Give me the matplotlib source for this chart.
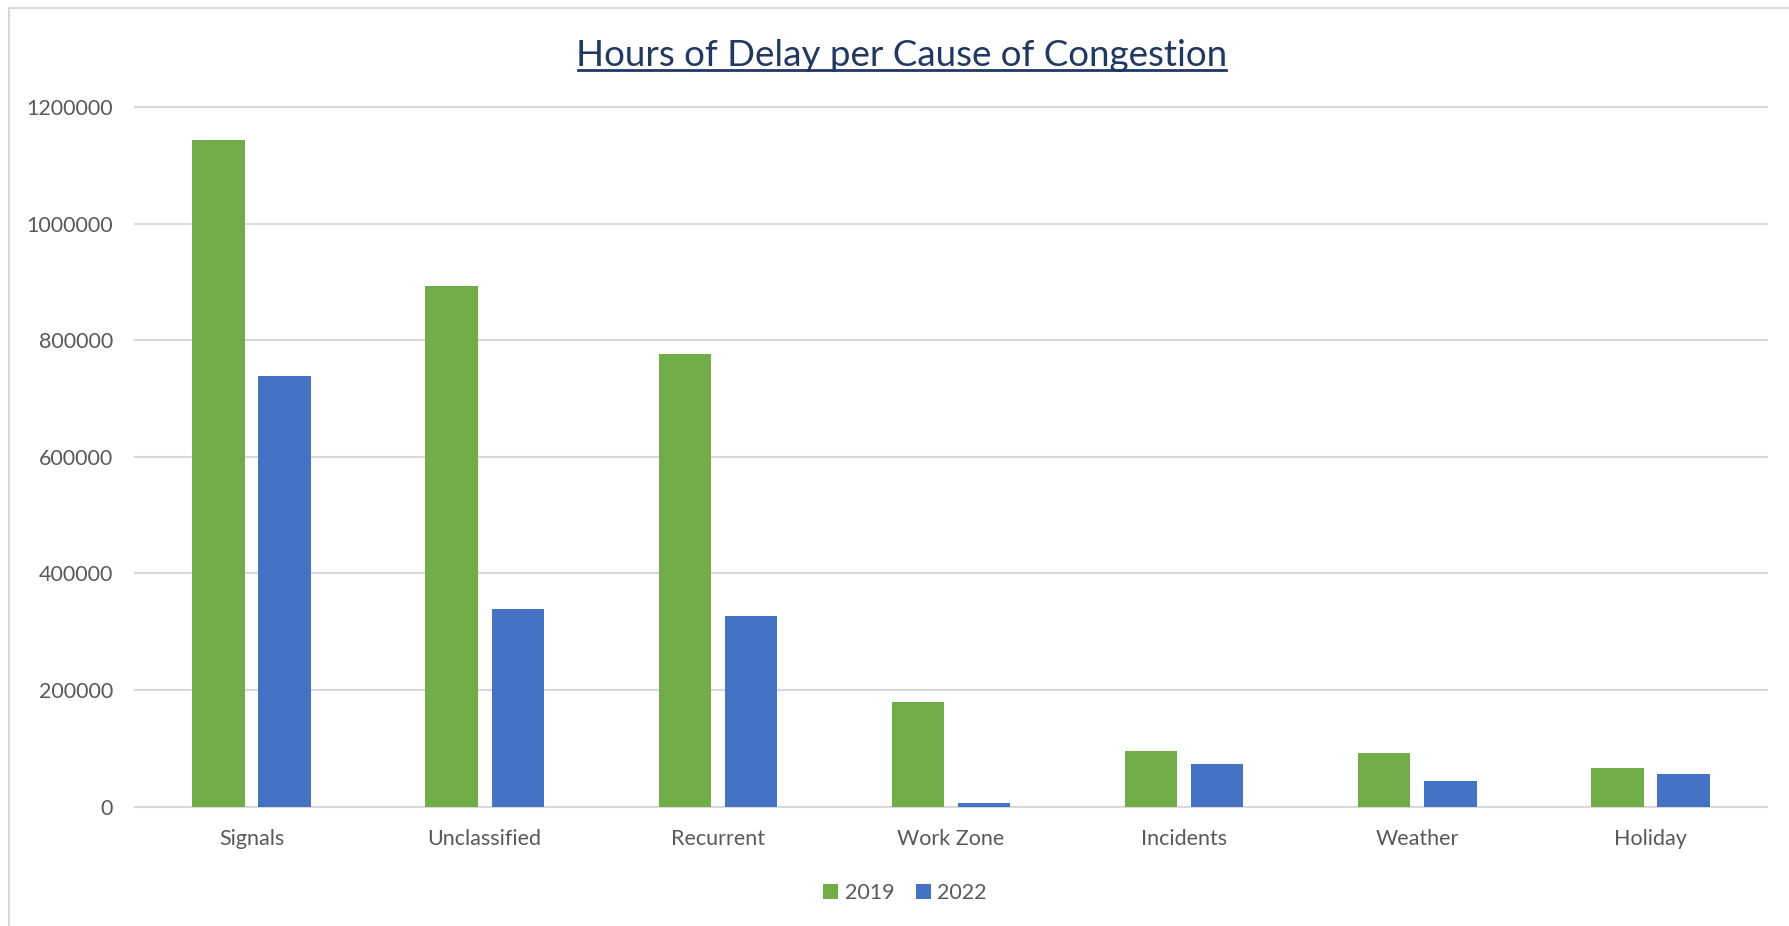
import matplotlib.pyplot as plt
import numpy as np

causes = ["Signals", "Unclassified", "Recurrent", "Work Zone", "Incidents", "Weather", "Holiday"]
delay_2019 = [1143000, 893000, 776000, 179000, 96000, 92000, 66000]
delay_2022 = [738000, 339000, 327000, 6000, 73000, 44000, 56000]
yticks = [0, 200000, 400000, 600000, 800000, 1000000, 1200000]

plt.rcParams['font.family'] = ['Lato', 'DejaVu Sans']

fig = plt.figure(figsize=(17.89, 9.26), dpi=100)
ax = fig.add_axes([135/1789, 1-806.7/926, 1632/1789, (806.7-107)/926])

x = np.arange(len(causes))
w = 0.225
off = 0.142
b1 = ax.bar(x - off, delay_2019, w, color='#70AD47', label='2019', zorder=3)
b2 = ax.bar(x + off, delay_2022, w, color='#4472C4', label='2022', zorder=3)

ax.set_xlim(-0.5, len(causes) - 0.5)
ax.set_ylim(0, 1200000)
ax.set_yticks(yticks)
ax.set_yticklabels([str(v) for v in yticks])
ax.set_xticks(x)
ax.set_xticklabels(causes)
ax.tick_params(axis='both', length=0, labelsize=15.5, colors='#595959')
ax.tick_params(axis='x', pad=16)
ax.tick_params(axis='y', pad=16)

for v in yticks:
    ax.axhline(v, color='#D9D9D9', lw=1.5, zorder=1, clip_on=False)
for s in ax.spines.values():
    s.set_visible(False)

fig.text(902/1789, 1-66/926, "Hours of Delay per Cause of Congestion", ha='center', va='baseline',
         fontsize=26.5, color='#203864')
# underline
fig.add_artist(plt.Line2D([578/1789, 1226/1789], [1-70/926, 1-70/926], color='#203864', lw=2))

fig.legend(handles=[b1, b2], loc='center', bbox_to_anchor=(905/1789, 1-893/926), ncol=2,
           frameon=False, fontsize=15.5, handlelength=0.7, handleheight=0.7, handletextpad=0.3,
           columnspacing=1.0, labelcolor='#595959')

# chart border
fig.add_artist(plt.Line2D([9/1789, 9/1789], [0, 1-8/926], color='#D9D9D9', lw=1.5))
fig.add_artist(plt.Line2D([9/1789, 1], [1-8/926, 1-8/926], color='#D9D9D9', lw=1.5))

fig.savefig('out.png', dpi=100)
